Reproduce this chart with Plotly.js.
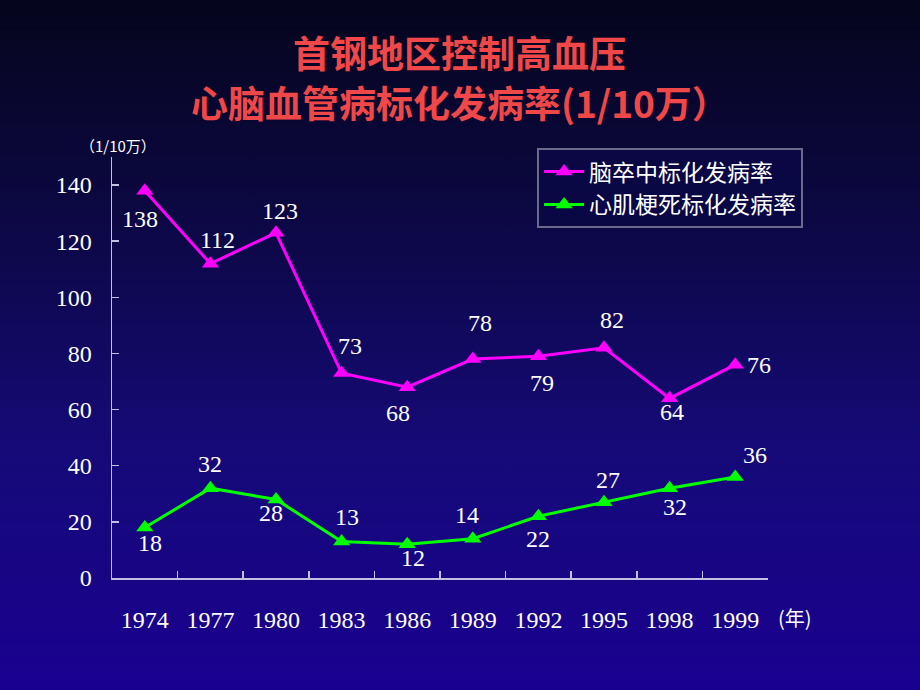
<!DOCTYPE html>
<html>
<head>
<meta charset="utf-8">
<script src="https://cdn.plot.ly/plotly-3.0.1.min.js"></script>
<style>
html,body{margin:0;padding:0;width:920px;height:690px;overflow:hidden;}
body{background:linear-gradient(to bottom,#05051c 0%,#0d0848 35%,#150a78 65%,#1a0090 100%);}
#chart{width:920px;height:690px;}
</style>
</head>
<body>
<div id="chart"></div>
<script>
const years = ["1974","1977","1980","1983","1986","1989","1992","1995","1998","1999"];
const strokeRate = [138,112,123,73,68,78,79,82,64,76];
const miRate = [18,32,28,13,12,14,22,27,32,36];
const strokeName = "脑卒中标化发病率";
const miName = "心肌梗死标化发病率";
const titleLine1 = "首钢地区控制高血压";
const titleLine2 = "心脑血管病标化发病率(1/10万）";
const yTicks = [0,20,40,60,80,100,120,140];

// label offsets (pixels)
const strokeDx = [-5,7,4,8,-9,7,4,8,2,24];
const strokeDy = [-28,24,22,27,-26,36,-27,28,-14,0];
const miDx = [5,0,-5,5,6,-6,0,4,5,20];
const miDy = [-16,24,-14,25,-14,24,-23,22,-19,22];

const labelFont = {family:"Liberation Serif, DejaVu Serif, serif", size:24, color:"#ffffff"};

const traces = [
  {x: years, y: strokeRate, name: strokeName, type:"scatter", mode:"lines+markers",
   line:{color:"#ff00ff", width:3}, marker:{symbol:"triangle-up", size:15, color:"#ff00ff"}},
  {x: years, y: miRate, name: miName, type:"scatter", mode:"lines+markers",
   line:{color:"#00ff00", width:3}, marker:{symbol:"triangle-up", size:15, color:"#00ff00"}}
];

const annotations = [];
years.forEach((yr,i)=>{
  annotations.push({x:i, y:strokeRate[i], xref:"x", yref:"y", text:String(strokeRate[i]),
    showarrow:false, xshift:strokeDx[i], yshift:strokeDy[i], font:labelFont});
  annotations.push({x:i, y:miRate[i], xref:"x", yref:"y", text:String(miRate[i]),
    showarrow:false, xshift:miDx[i], yshift:miDy[i], font:labelFont});
});
const titleFont = {family:"Noto Sans CJK SC, sans-serif", size:37, color:"#f04848", weight:"bold"};
annotations.push({xref:"paper", yref:"paper", x:0.53, y:(578-52)/421, xanchor:"center", yanchor:"middle",
  text:"<b>"+titleLine1+"</b>", showarrow:false, borderpad:0, font:titleFont});
annotations.push({xref:"paper", yref:"paper", x:0.53, y:(578-102)/421, xanchor:"center", yanchor:"middle",
  text:"<b>"+titleLine2+"</b>", showarrow:false, borderpad:0, font:titleFont});
annotations.push({xref:"paper", yref:"paper", x:0.009, y:1.028, xanchor:"center", yanchor:"middle",
  text:"（1/10万）", showarrow:false, font:{family:"Noto Sans CJK SC, serif", size:15, color:"#ffffff"}});
annotations.push({xref:"paper", yref:"paper", x:1.041, y:-0.095, xanchor:"center", yanchor:"middle",
  text:"(年)", showarrow:false, font:{family:"Noto Sans CJK SC, sans-serif", size:20, color:"#ffffff"}});

const layout = {
  width:920, height:690,
  paper_bgcolor:"rgba(0,0,0,0)", plot_bgcolor:"rgba(0,0,0,0)",
  margin:{l:112, r:152, t:157, b:112},
  showlegend:true,
  legend:{x:0.648, y:1.021, xanchor:"left", yanchor:"top",
    bgcolor:"rgba(10,8,70,0.9)", bordercolor:"#6a6a8a", borderwidth:2,
    font:{family:"Noto Sans CJK SC, sans-serif", size:23, color:"#ffffff"},
    itemwidth:40, tracegroupgap:2},
  xaxis:{type:"category", range:[-0.5,9.5], showgrid:false, zeroline:false,
    showline:true, linecolor:"#c0c0e0", linewidth:1.5,
    ticks:"inside", tickson:"boundaries", ticklen:7, tickcolor:"#c0c0e0", tickwidth:1.5,
    ticklabelstandoff:20,
    tickfont:{family:"Liberation Serif, DejaVu Serif, serif", size:24, color:"#ffffff"}},
  yaxis:{range:[0,150], showgrid:false, zeroline:false,
    showline:true, linecolor:"#c0c0e0", linewidth:1.5,
    ticks:"inside", ticklen:7, tickcolor:"#c0c0e0", tickwidth:1.5,
    tickvals:yTicks, ticktext:yTicks.map(String), ticklabelstandoff:14,
    tickfont:{family:"Liberation Serif, DejaVu Serif, serif", size:24, color:"#ffffff"}},
  annotations: annotations
};

Plotly.newPlot("chart", traces, layout, {displayModeBar:false, staticPlot:true});
</script>
</body>
</html>
